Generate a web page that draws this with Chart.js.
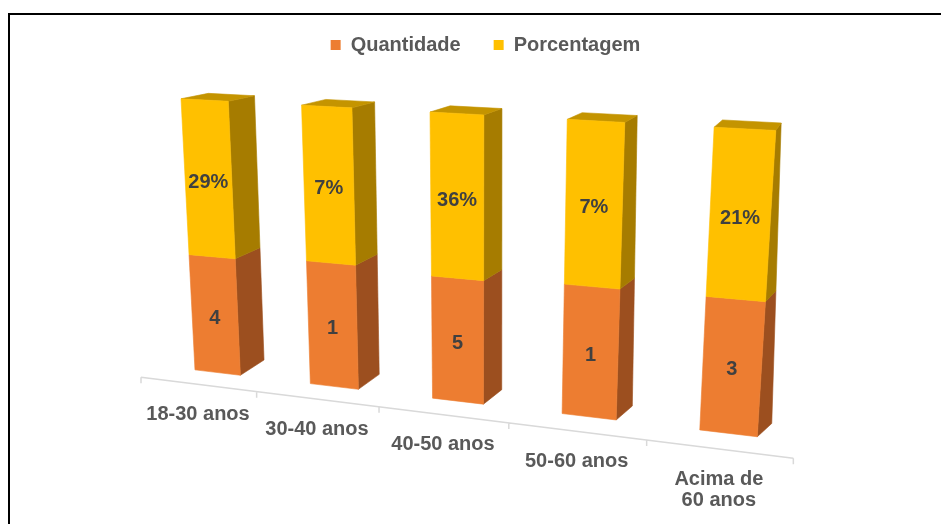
<!DOCTYPE html>
<html>
<head>
<meta charset="utf-8">
<script src="https://cdn.jsdelivr.net/npm/chart.js@4.4.0/dist/chart.umd.min.js"></script>
<style>
  html, body { margin: 0; padding: 0; background: #fff; }
  #wrap { position: relative; width: 941px; height: 524px; overflow: hidden; }
  #wrap canvas { position: absolute; left: 0; top: 0; }
  #moldura { position: absolute; left: 8px; top: 13px; width: 940px; height: 520px;
             border-top: 2px solid #000; border-left: 2px solid #000; }
</style>
</head>
<body>
<div id="wrap">
  <canvas id="idadeChart" width="941" height="524"></canvas>
  <div id="moldura"></div>
</div>
<script>
// faixas etárias
const categories = ['18-30 anos', '30-40 anos', '40-50 anos', '50-60 anos', ['Acima de', '60 anos']];
// valores mostrados nos rótulos
const quantidade = [4, 1, 5, 1, 3];
const porcentagem = [29, 7, 36, 7, 21];
// altura de cada parte da coluna (em % da coluna)
const alturaQuantidade = [43.7, 45.3, 43.9, 45.2, 45.3];
const alturaPorcentagem = [56.3, 54.7, 56.1, 54.8, 54.7];

// perspectiva: cada aresta da área do gráfico na tela
// x = (a*s + b) / (c*s + 1), y linear entre y0 (s=0) e y1 (s=1)
const frontTop = { a: 551, b: 146.3, c: -0.153, y0: 96.9, y1: 133.0 };
const frontBottom = { a: 529.5, b: 161.6, c: -0.1376, y0: 365.9, y1: 442.0 };
const backTop = { a: 536.6, b: 174.4, c: -0.1394, y0: 91.6, y1: 125.3 };
const backBottom = { a: 508.6, b: 187.4, c: -0.1465, y0: 350.4, y1: 428.9 };
const axisEdge = { a: 542.7, b: 141, c: -0.1382, y0: 377.3, y1: 458.3 };
const vertPersp = 0.05;

const fontFamily = "'Liberation Sans', Arial, sans-serif";

function edgePoint(e, s) {
    const x = (e.a * s + e.b) / (e.c * s + 1);
    const xEnd = (e.a + e.b) / (e.c + 1);
    return [x, e.y0 + (x - e.b) / (xEnd - e.b) * (e.y1 - e.y0)];
}

function planePoint(top, bottom, s, t) {
    const p = edgePoint(top, s), q = edgePoint(bottom, s);
    const k = t * (1 + vertPersp) / (1 + vertPersp * t);
    return [p[0] + (q[0] - p[0]) * k, p[1] + (q[1] - p[1]) * k];
}

// z = 0 frente da coluna, z = 1 fundo
function project(s, t, z) {
    const p = planePoint(frontTop, frontBottom, s, t);
    const q = planePoint(backTop, backBottom, s, t);
    return [p[0] + (q[0] - p[0]) * z, p[1] + (q[1] - p[1]) * z];
}

function poly(ctx, pts, color) {
    ctx.beginPath();
    ctx.moveTo(pts[0][0], pts[0][1]);
    for (let i = 1; i < pts.length; i++) ctx.lineTo(pts[i][0], pts[i][1]);
    ctx.closePath();
    ctx.fillStyle = color;
    ctx.fill();
    ctx.strokeStyle = color;
    ctx.lineWidth = 0.6;
    ctx.stroke();
}

// desenha as colunas em 3D a partir das posições calculadas pelo Chart.js
const bars3d = {
    id: 'bars3d',
    beforeDatasetsDraw(chart) {
        const ctx = chart.ctx;
        const area = chart.chartArea;
        const toS = px => (px - area.left) / (area.right - area.left);
        const toT = py => (py - area.top) / (area.bottom - area.top);
        const xScale = chart.scales.x;
        const n = chart.data.labels.length;
        const centers = [];
        for (let i = 0; i < n; i++) centers.push(toS(xScale.getPixelForValue(i)));
        const half = (centers[1] - centers[0]) / 2;

        ctx.save();

        // eixo das categorias
        const a0 = edgePoint(axisEdge, centers[0] - half);
        const a1 = edgePoint(axisEdge, centers[n - 1] + half);
        ctx.strokeStyle = '#d9d9d9';
        ctx.lineWidth = 1.5;
        ctx.beginPath();
        ctx.moveTo(a0[0], a0[1]);
        ctx.lineTo(a1[0], a1[1]);
        for (let i = 0; i <= n; i++) {
            const p = edgePoint(axisEdge, centers[0] - half + i * 2 * half);
            ctx.moveTo(p[0], p[1]);
            ctx.lineTo(p[0], p[1] + 6);
        }
        ctx.stroke();

        ctx.fillStyle = '#595959';
        ctx.font = 'bold 20px ' + fontFamily;
        ctx.textAlign = 'center';
        ctx.textBaseline = 'middle';
        chart.data.labels.forEach((lab, i) => {
            const p = edgePoint(axisEdge, centers[i]);
            const lines = Array.isArray(lab) ? lab : [lab];
            lines.forEach((ln, j) => ctx.fillText(ln, p[0], p[1] + 30 + j * 21));
        });

        // colunas
        const metas = chart.data.datasets.map((ds, k) => chart.getDatasetMeta(k));
        const textos = [];
        for (let i = 0; i < n; i++) {
            const segs = metas.map((meta, k) => {
                const el = meta.data[i];
                return {
                    sL: toS(el.x - el.width / 2), sR: toS(el.x + el.width / 2),
                    tTop: toT(Math.min(el.y, el.base)), tBot: toT(Math.max(el.y, el.base)),
                    ds: chart.data.datasets[k], k: k
                };
            });
            segs.forEach(sg => poly(ctx, [
                project(sg.sR, sg.tTop, 0), project(sg.sR, sg.tTop, 1),
                project(sg.sR, sg.tBot, 1), project(sg.sR, sg.tBot, 0)
            ], sg.ds.sideColor));
            const topo = segs.reduce((m, sg) => sg.tTop < m.tTop ? sg : m);
            poly(ctx, [
                project(topo.sL, topo.tTop, 0), project(topo.sR, topo.tTop, 0),
                project(topo.sR, topo.tTop, 1), project(topo.sL, topo.tTop, 1)
            ], topo.ds.topColor);
            segs.forEach(sg => {
                poly(ctx, [
                    project(sg.sL, sg.tTop, 0), project(sg.sR, sg.tTop, 0),
                    project(sg.sR, sg.tBot, 0), project(sg.sL, sg.tBot, 0)
                ], sg.ds.backgroundColor);
                const c = project((sg.sL + sg.sR) / 2, (sg.tTop + sg.tBot) / 2, 0);
                const txt = sg.k === 0 ? String(quantidade[i]) : porcentagem[i] + '%';
                textos.push([txt, c[0], c[1] + 3]);
            });
        }

        ctx.fillStyle = '#404040';
        ctx.font = 'bold 20px ' + fontFamily;
        textos.forEach(([txt, x, y]) => ctx.fillText(txt, x, y));

        ctx.restore();
        return false;
    }
};

new Chart(document.getElementById('idadeChart'), {
    type: 'bar',
    data: {
        labels: categories,
        datasets: [{
            label: 'Quantidade',
            data: alturaQuantidade,
            backgroundColor: '#ed7d31',
            sideColor: '#9c4f1f',
            topColor: '#c4642a',
            borderWidth: 0
        }, {
            label: 'Porcentagem',
            data: alturaPorcentagem,
            backgroundColor: '#ffc000',
            sideColor: '#a67c00',
            topColor: '#c49400',
            borderWidth: 0
        }]
    },
    options: {
        responsive: false,
        animation: false,
        categoryPercentage: 0.8,
        barPercentage: 0.5,
        layout: { padding: { top: 2, left: 30 } },
        plugins: {
            legend: {
                position: 'top',
                labels: {
                    boxWidth: 10,
                    boxHeight: 10,
                    padding: 33,
                    color: '#595959',
                    font: { family: fontFamily, size: 20, weight: 'bold' }
                }
            },
            tooltip: { enabled: false }
        },
        scales: {
            x: { stacked: true, display: false },
            y: { stacked: true, display: false, min: 0, max: 100 }
        }
    },
    plugins: [bars3d]
});
</script>
</body>
</html>
